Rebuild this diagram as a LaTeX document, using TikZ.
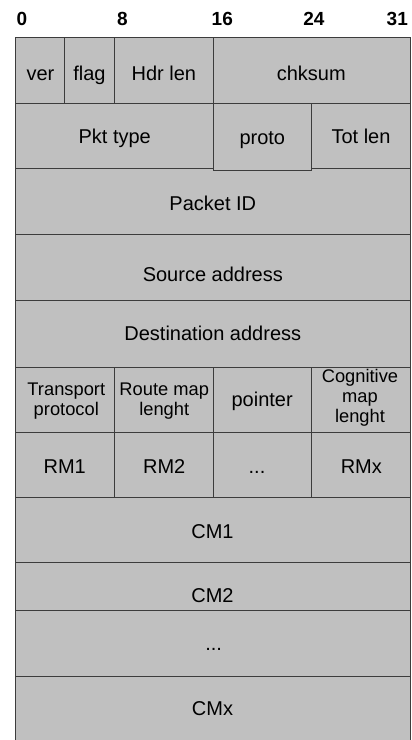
\documentclass[tikz,border=0pt]{standalone}
\usepackage{fontspec}
\setmainfont{Liberation Sans}
\definecolor{cellgray}{RGB}{192,192,192}
\definecolor{linegray}{RGB}{60,60,60}
\tikzset{every node/.style={inner sep=0pt,outer sep=0pt}}
\tikzset{cell/.style={draw=linegray,fill=cellgray,line width=1pt}}
\tikzset{lbl/.style={anchor=base,font=\fontsize{20}{24}\selectfont}}
\tikzset{sm/.style={anchor=center,align=center,font=\fontsize{18.3}{20}\selectfont}}
\tikzset{bit/.style={anchor=base,font=\bfseries\fontsize{19}{22}\selectfont}}

\begin{document}
\begin{tikzpicture}[x=1pt,y=-1pt]
  \useasboundingbox (0,0) rectangle (412,740);
  % bit numbers
  \node[bit] (b0) at (22,25) {0};
  \node[bit] (b8) at (122.3,25) {8};
  \node[bit] (b16) at (222.3,25) {16};
  \node[bit] (b24) at (314,25) {24};
  \node[bit] (b31) at (397.3,25) {31};
  % first two words
  \draw[cell] (15.5,37) rectangle (64.9,103);
  \draw[cell] (64.9,37) rectangle (114.3,103);
  \draw[cell] (114.3,37) rectangle (213,103);
  \draw[cell] (213,37) rectangle (410.6,103);
  \draw[cell] (15.5,103) rectangle (213,168);
  \draw[cell] (311.8,103) rectangle (410.6,168);
  \draw[cell] (15.5,168) rectangle (410.6,234);
  \draw[cell] (213,103) rectangle (311.8,170);
  % full rows
  \foreach \a/\b in {234/300,300/367,497/562,562/610,610/676,676/745}
    \draw[cell] (15.5,\a) rectangle (410.6,\b);
  % quarter rows
  \foreach \a/\b in {15.5/114.3,114.3/213,213/311.8,311.8/410.6}
    \draw[cell] (\a,367) rectangle (\b,432) (\a,432) rectangle (\b,497);
  % labels
  \node[lbl] (ver) at (40.5,80) {ver};
  \node[lbl] (flag) at (89.5,80) {flag};
  \node[lbl] (hdr) at (163.8,80) {Hdr len};
  \node[lbl] (chk) at (311.3,80) {chksum};
  \node[lbl] (pkt) at (114.7,143.3) {Pkt type};
  \node[lbl] (proto) at (262.3,144) {proto};
  \node[lbl] (tot) at (361,143.3) {Tot len};
  \node[lbl] (pid) at (212.8,210) {Packet ID};
  \node[lbl] (src) at (212.8,281.7) {Source address};
  \node[lbl] (dst) at (212.8,340.7) {Destination address};
  \node[sm] (tp) at (66.3,400.9) {Transport\\protocol};
  \node[sm] (rml) at (164.2,400.8) {Route map\\lenght};
  \node[lbl] (ptr) at (262.2,406.7) {pointer};
  \node[sm] (cml) at (360,397.3) {Cognitive\\map\\lenght};
  \node[lbl] (rm1) at (64.7,473.3) {RM1};
  \node[lbl] (rm2) at (164.2,473.3) {RM2};
  \node[lbl] (rmd) at (257,473.3) {...};
  \node[lbl] (rmx) at (361.3,473.3) {RMx};
  \node[lbl] (cm1) at (212.5,538.3) {CM1};
  \node[lbl] (cm2) at (212.5,602.7) {CM2};
  \node[lbl] (cmd) at (213.7,650) {...};
  \node[lbl] (cmx) at (212.5,715) {CMx};
\end{tikzpicture}
\end{document}
